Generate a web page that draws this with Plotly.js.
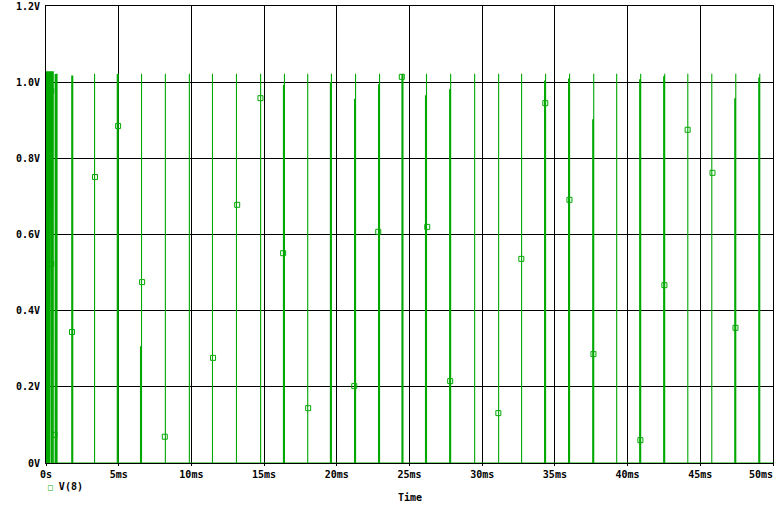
<!DOCTYPE html>
<html>
<head>
<meta charset="utf-8">
<script src="https://cdn.plot.ly/plotly-3.0.1.min.js"></script>
<style>
  html, body { margin: 0; padding: 0; background: #ffffff; }
  #chart { width: 779px; height: 505px; }
</style>
</head>
<body>
<div id="chart"></div>
<script>
// ---- data (time in ms, voltage in V) ----
const spikeTimes = [0.00, 0.04, 0.08, 0.12, 0.16, 0.20, 0.25, 0.36, 0.42, 0.50, 0.70, 0.76,
  1.84, 3.34, 4.97, 6.57, 8.21, 9.86, 11.45, 13.10, 14.76, 16.40, 18.00, 19.63, 21.29,
  22.94, 24.55, 26.17, 27.83, 29.48, 31.13, 32.71, 34.36, 36.01, 37.67, 39.25, 40.90,
  42.55, 44.14, 45.79, 47.44, 49.09];
const spikeTops = [1.027, 1.027, 1.027, 1.027, 1.027, 1.027, 1.027, 1.027, 1.027, 1.027, 1.022, 1.022,
  1.016, 1.022, 1.022, 1.022, 1.022, 1.022, 1.022, 1.022, 1.022, 1.022, 1.022, 1.022, 1.022,
  1.022, 1.022, 1.022, 1.022, 1.022, 1.022, 1.022, 1.022, 1.022, 1.022, 1.022, 1.022,
  1.022, 1.022, 1.022, 1.022, 1.022];
// value at the sample just before each spike's peak sample
const stepValues = [1.027, 1.027, 1.027, 1.027, 1.027, 1.027, 1.027, 1.027, 1.027, 1.027, 1.020, 0,
  1.016, 0, 1.020, 0.305, 0, 0, 0, 0, 0, 0.992, 0, 0.999, 0.955,
  0.993, 1.020, 0.964, 0.980, 0, 0, 0, 1.003, 1.008, 0.901, 0, 1.006,
  1.014, 0, 0, 0.956, 1.011];
const STEP_MS = 0.07; // simulation print step

const markerTimes = [0.36, 0.36, 0.58, 1.79, 3.37, 4.96, 6.61, 8.17, 11.49, 13.15, 14.75, 16.31,
  18.03, 21.20, 22.85, 24.47, 26.22, 27.80, 31.11, 32.69, 34.34, 36.00, 37.65, 40.88,
  42.53, 44.13, 45.84, 47.42];
const markerValues = [0.977, 0.523, 0.074, 0.344, 0.751, 0.885, 0.475, 0.069, 0.276, 0.678, 0.958, 0.551,
  0.144, 0.202, 0.607, 1.014, 0.620, 0.215, 0.131, 0.536, 0.945, 0.691, 0.286, 0.060,
  0.467, 0.875, 0.762, 0.355];

const xTickVals = [0, 5, 10, 15, 20, 25, 30, 35, 40, 45, 50];
const xTickText = ['0s', '5ms', '10ms', '15ms', '20ms', '25ms', '30ms', '35ms', '40ms', '45ms', '50ms'];
const yTickVals = [0, 0.2, 0.4, 0.6, 0.8, 1.0, 1.2];
const yTickText = ['0V', '0.2V', '0.4V', '0.6V', '0.8V', '1.0V', '1.2V'];
const seriesName = 'V(8)';

// ---- build waveform path from the spike table ----
const wx = [], wy = [];
for (let i = 0; i < spikeTimes.length; i++) {
  const t = spikeTimes[i];
  wx.push(t - STEP_MS, t - STEP_MS, t, t, t);
  wy.push(0, stepValues[i], stepValues[i], spikeTops[i], 0);
}
wx.push(50); wy.push(0);

const GREEN = '#00a800';
const FONT = { family: 'DejaVu Sans Mono, monospace', size: 10, color: '#000000' };
const bold = s => '<b>' + s + '</b>';
// the last x label is right-aligned to the plot edge, as in the original
const xLabels = xTickText.map((s, i) => bold(s) + (i === xTickText.length - 1 ? '\u00a0\u00a0\u00a0\u00a0' : ''));

const traces = [
  {
    x: wx, y: wy, type: 'scatter', mode: 'lines',
    line: { color: GREEN, width: 1.1 },
    showlegend: false, hoverinfo: 'skip', cliponaxis: true
  },
  {
    x: markerTimes, y: markerValues, type: 'scatter', mode: 'markers',
    name: seriesName,
    marker: { symbol: 'square-open', size: 5, color: GREEN, line: { color: GREEN, width: 1 } },
    showlegend: false
  }
];

const axisCommon = {
  showgrid: true, gridcolor: '#000000', gridwidth: 1,
  showline: true, linecolor: '#000000', linewidth: 1, mirror: true,
  zeroline: false, layer: 'below traces', tickfont: FONT, fixedrange: true
};

const layout = {
  width: 779, height: 505,
  margin: { l: 46, r: 6, t: 6, b: 42 },
  paper_bgcolor: '#ffffff', plot_bgcolor: '#ffffff',
  font: FONT,
  xaxis: Object.assign({}, axisCommon, {
    range: [0, 50], tickmode: 'array', tickvals: xTickVals, ticktext: xLabels,
    ticks: 'outside', ticklen: 2, tickcolor: '#000000', ticklabeloverflow: 'allow'
  }),
  yaxis: Object.assign({}, axisCommon, {
    range: [0, 1.2], tickmode: 'array', tickvals: yTickVals, ticktext: yTickText.map(bold),
    ticks: '', ticklabelstandoff: 3, ticklabeloverflow: 'allow'
  }),
  annotations: [
    {
      xref: 'paper', yref: 'paper', x: 0.5, y: -0.0744, xanchor: 'center', yanchor: 'middle',
      text: bold('Time'), showarrow: false, font: FONT
    },
    {
      xref: 'paper', yref: 'paper', x: 0.0, y: -0.0525, xanchor: 'left', yanchor: 'middle',
      text: '<span style="color:' + GREEN + ';font-size:8px">□</span> ' + bold(seriesName),
      showarrow: false, font: FONT
    }
  ]
};

Plotly.newPlot('chart', traces, layout, { displayModeBar: false, staticPlot: true });
</script>
</body>
</html>
